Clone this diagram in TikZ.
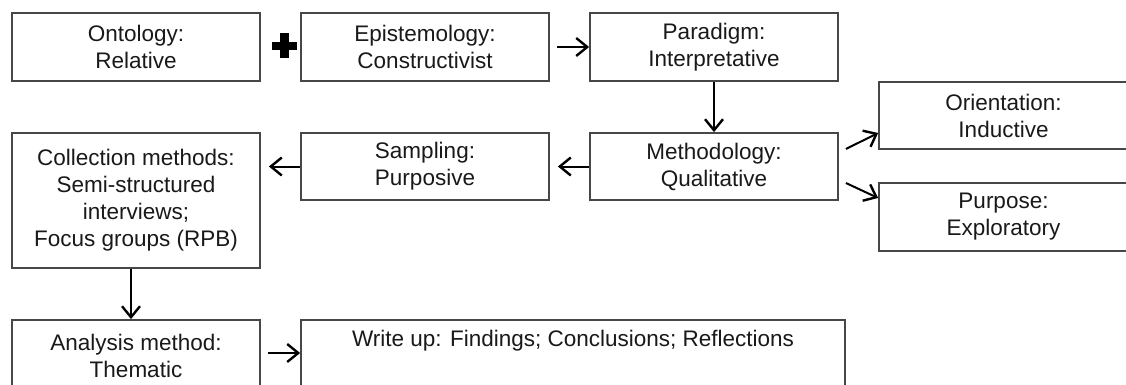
\documentclass[tikz,border=0pt]{standalone}
\usepackage{fontspec}
\setmainfont{Liberation Sans}
\usetikzlibrary{arrows.meta}
\begin{document}
\begin{tikzpicture}[x=1pt,y=-1pt,
  box/.style={draw=black!72, line width=1.8pt, fill=white, rectangle, inner sep=0pt,
    align=center, font=\fontsize{22.5}{27}\selectfont, text=black!90},
  flow/.style={line width=2pt, -{Straight Barb[length=11pt,width=18pt,line width=2.4pt]}}]
  \useasboundingbox (0,0) rectangle (1126,385);
  \clip (0,0) rectangle (1126,385);
  \fill[white] (0,0) rectangle (1126,385);

  % top row
  \node[box, minimum width=248pt, minimum height=68pt] (onto) at (136,47) {Ontology:\\Relative};
  \node[box, minimum width=248pt, minimum height=68pt] (epis) at (425,47) {Epistemology:\\Constructivist};
  \node[box, minimum width=248pt, minimum height=68pt] (para) at (714,47) {Paradigm:\\Interpretative};

  % second row
  \node[box, minimum width=248pt, minimum height=67pt] (meth) at (714,166.5) {Methodology:\\Qualitative};
  \node[box, minimum width=248pt, minimum height=67pt] (samp) at (425,166.5) {Sampling:\\Purposive};
  \node[box, minimum width=248pt, minimum height=135pt] (coll) at (136,200.5)
    {Collection methods:\\Semi-structured\\interviews;\\Focus groups (RPB)};

  % right column
  \node[box, minimum width=249pt, minimum height=67pt] (orie) at (1003.5,115.5) {Orientation:\\Inductive};
  \node[box, minimum width=249pt, minimum height=68pt] (purp) at (1003.5,217) {Purpose:\\Exploratory};

  % bottom row
  \node[box, minimum width=248pt, minimum height=72pt] (anal) at (136,356) {Analysis method:\\Thematic};
  \node[box, minimum width=544pt, minimum height=72pt] (writ) at (573,356)
    {Write up: Findings; Conclusions; Reflections\\\strut};

  % plus sign between the first two boxes
  \fill[black] (280,33.5) rectangle (288.5,58.5);
  \fill[black] (272,42) rectangle (296.5,50.5);

  % connectors
  \draw[flow, shorten <=7pt] (epis.east) -- (para.west);
  \draw[flow] (para.south) -- (meth.north);
  \draw[flow, shorten >=8pt] (meth.west) -- (samp.east);
  \draw[flow, shorten >=8pt] (samp.west) -- (samp.west -| coll.east);
  \draw[flow] ([xshift=-5pt]coll.south) -- ([xshift=-5pt]anal.north);
  \draw[flow, shorten <=7pt] ([yshift=3pt]anal.east) -- ([yshift=3pt]writ.west);
  \draw[flow] ([shift={(7pt,17.5pt)}]meth.east) -- ([yshift=-17.5pt]orie.west);
  \draw[flow] ([shift={(7pt,-16.5pt)}]meth.east) -- ([yshift=19pt]purp.west);
\end{tikzpicture}
\end{document}
